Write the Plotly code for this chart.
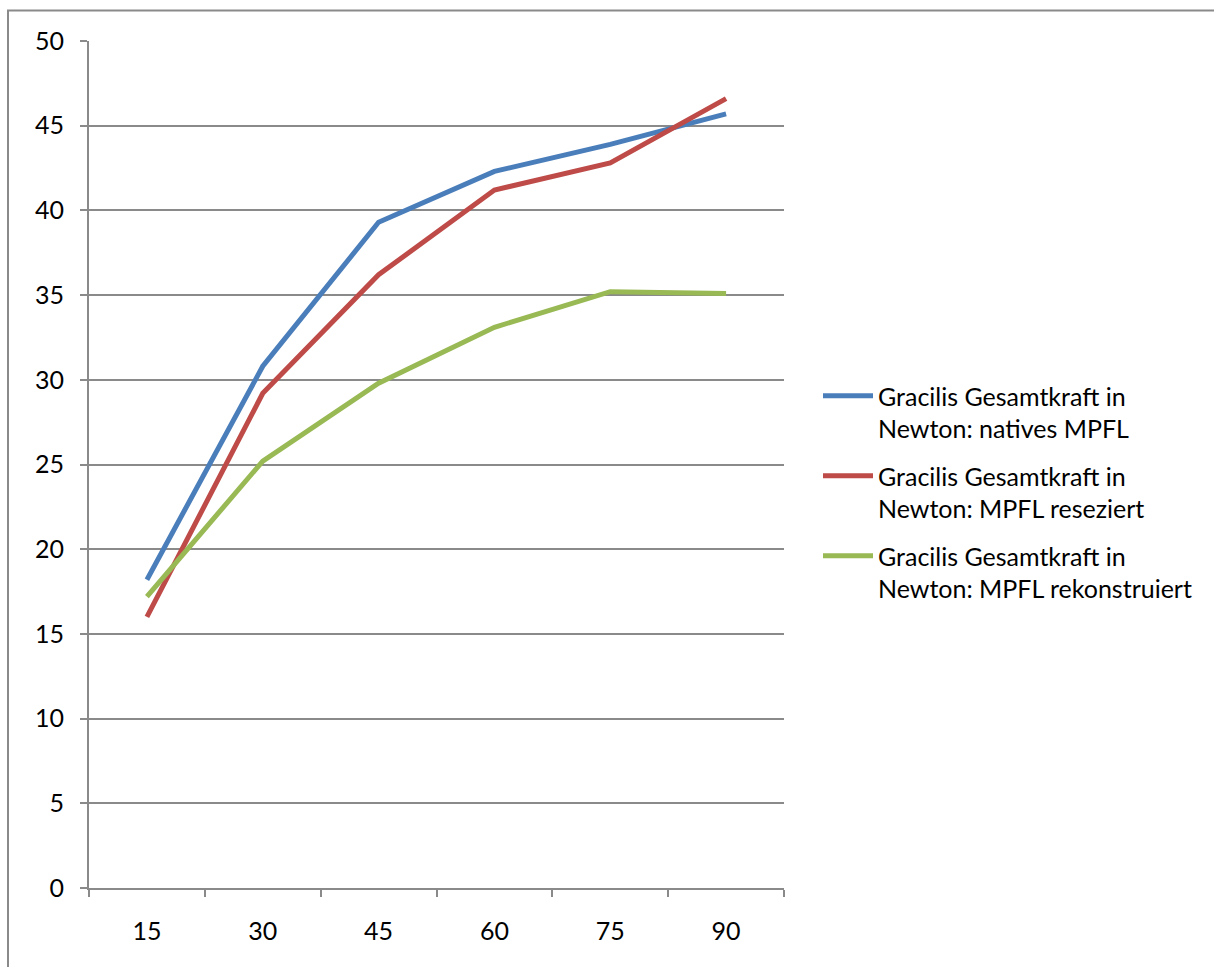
import plotly.graph_objects as go

# Flexion angle categories (degrees)
angles = ["15", "30", "45", "60", "75", "90"]

# Gracilis total force in Newton per condition
natives = [18.2, 30.8, 39.3, 42.3, 43.9, 45.7]
reseziert = [16.0, 29.2, 36.2, 41.2, 42.8, 46.6]
rekonstruiert = [17.2, 25.2, 29.8, 33.1, 35.2, 35.1]

series_names = [
    "Gracilis Gesamtkraft in<br>Newton: natives MPFL",
    "Gracilis Gesamtkraft in<br>Newton: MPFL reseziert",
    "Gracilis Gesamtkraft in<br>Newton: MPFL rekonstruiert",
]
series_colors = ["#4A7EBB", "#BE4B48", "#98B954"]

W, H = 1214, 967
L, R, T, B = 89, 430, 41, 79
plot_w = W - L - R
plot_h = H - T - B

FONT = "Lato"
FSIZE = 25
GRAY = "#8a8a8a"

fig = go.Figure()
for i, (name, vals, col) in enumerate(zip(series_names, [natives, reseziert, rekonstruiert], series_colors)):
    fig.add_trace(go.Scatter(
        x=angles, y=vals, name=name, mode="lines", legendgroup=f"g{i}",
        line=dict(color=col, width=5),
    ))


def px_x(p):
    return (p - L) / plot_w


def px_y(p):
    return (H - B - p) / plot_h


# outer chart frame (runs past the right and bottom page edges)
fig.add_shape(type="rect", xref="paper", yref="paper",
              x0=px_x(8), x1=px_x(W + 10), y0=px_y(10.5), y1=px_y(H + 10),
              line=dict(color=GRAY, width=2), fillcolor="rgba(0,0,0,0)", layer="below")

fig.update_layout(
    width=W, height=H,
    margin=dict(l=L, r=R, t=T, b=B),
    paper_bgcolor="white", plot_bgcolor="white",
    font=dict(family=FONT, size=FSIZE, color="black"),
    showlegend=True,
    legend=dict(
        x=px_x(818), y=px_y(373), xanchor="left", yanchor="top",
        valign="top", font=dict(family=FONT, size=FSIZE, color="black"),
        bgcolor="rgba(0,0,0,0)", tracegroupgap=12, itemwidth=50,
    ),
    xaxis=dict(
        type="category", range=[-0.5, 5.5], tickson="boundaries",
        showline=True, linecolor=GRAY, linewidth=2,
        ticks="outside", ticklen=7, tickcolor=GRAY, tickwidth=2,
        showgrid=False, zeroline=False, ticklabelstandoff=20,
    ),
    yaxis=dict(
        range=[0, 50], dtick=5, tick0=0,
        showline=True, linecolor=GRAY, linewidth=2,
        ticks="outside", ticklen=7, tickcolor=GRAY, tickwidth=2,
        showgrid=True, gridcolor=GRAY, gridwidth=2, zeroline=False,
        ticklabelstandoff=11,
    ),
)

fig.write_html("out.html")
